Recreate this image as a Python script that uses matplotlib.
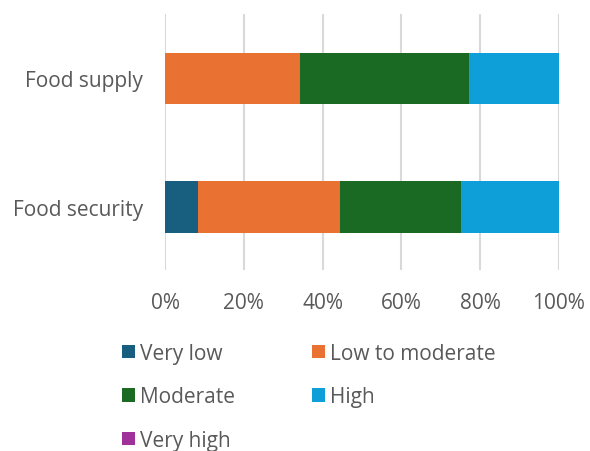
import matplotlib.pyplot as plt
import numpy as np

categories = ["Food security", "Food supply"]
levels = ["Very low", "Low to moderate", "Moderate", "High", "Very high"]
colors = ["#175e7f", "#e97132", "#1b6a24", "#0f9fd8", "#a0309a"]
values = {
    "Very low": [8.3, 0.0],
    "Low to moderate": [36.1, 34.3],
    "Moderate": [30.6, 42.9],
    "High": [25.0, 22.8],
    "Very high": [0.0, 0.0],
}

text_color = "#595959"
plt.rcParams["font.family"] = ["Open Sans", "DejaVu Sans"]

fig = plt.figure(figsize=(5.9, 4.52), dpi=100)
ax = fig.add_axes([165 / 590, 1 - 271 / 452, 394 / 590, 256 / 452])

y = np.arange(len(categories))
left = np.zeros(len(categories))
handles = {}
for level, color in zip(levels, colors):
    vals = np.array(values[level])
    h = ax.barh(y, vals, left=left, height=0.4, color=color, label=level)
    handles[level] = h
    left += vals

ax.set_xlim(0, 100)
ax.set_ylim(-0.49, 1.5)
ax.set_xticks(np.arange(0, 101, 20))
ax.set_xticklabels([f"{t}%" for t in range(0, 101, 20)])
ax.set_yticks(y)
ax.set_yticklabels(categories)
ax.tick_params(axis="both", length=0, labelsize=15, colors=text_color)
ax.tick_params(axis="x", pad=16)
ax.tick_params(axis="y", pad=16)
ax.grid(axis="x", color="#d9d9d9", linewidth=1.5)
ax.set_axisbelow(True)
for s in ax.spines.values():
    s.set_visible(False)

# two-column legend filled column-wise, so reorder to read row by row
order = ["Very low", "Moderate", "Very high", "Low to moderate", "High"]
leg = fig.legend([handles[k] for k in order], order, ncol=2,
                 loc="upper left", bbox_to_anchor=(103 / 590, 1 - 325 / 452),
                 frameon=False, fontsize=15, handlelength=0.62,
                 handleheight=0.62, handletextpad=0.25, columnspacing=3.7,
                 labelspacing=1.08, labelcolor=text_color)

fig.savefig("out.png", dpi=100)
